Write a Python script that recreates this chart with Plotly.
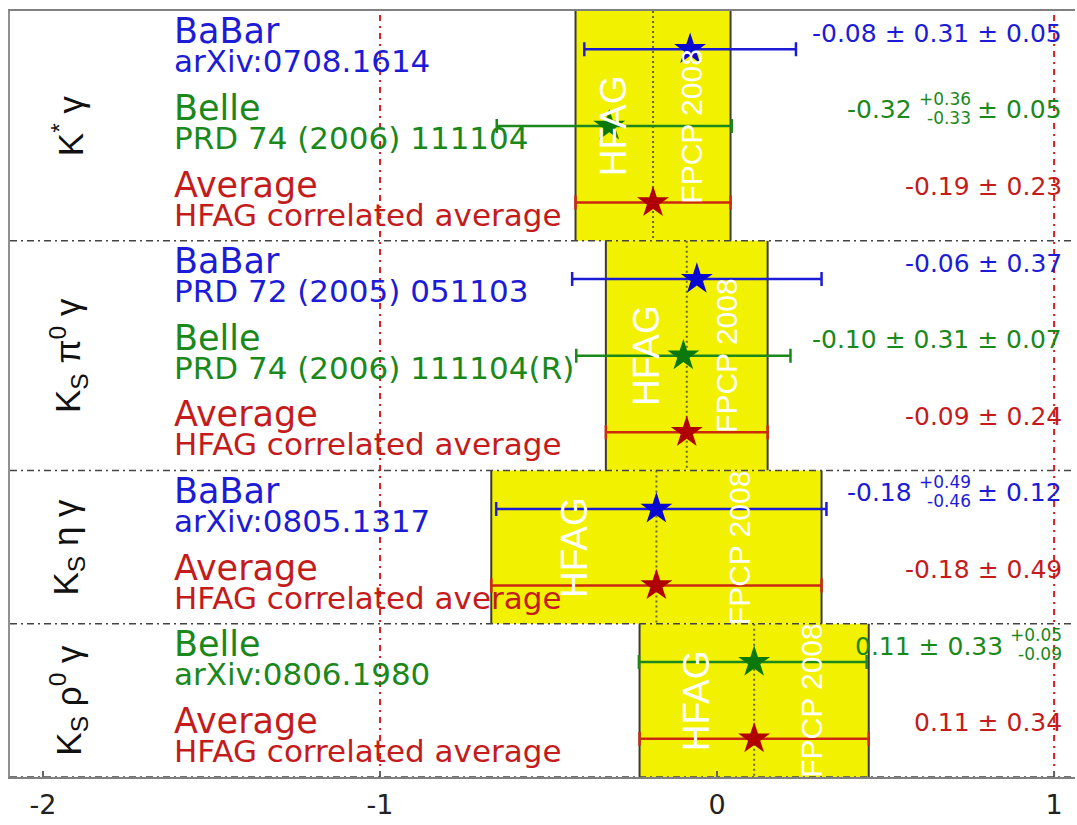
import math
import plotly.graph_objects as go

# ---- data -------------------------------------------------------------
decay_modes = [
    "K<sup>*</sup> γ",
    "K<sub>S</sub> π<sup>0</sup> γ",
    "K<sub>S</sub> η γ",
    "K<sub>S</sub> ρ<sup>0</sup> γ",
]

meas_mode = [0, 0, 1, 1, 2, 3]
meas_exp = ["BaBar", "Belle", "BaBar", "Belle", "BaBar", "Belle"]
meas_ref = [
    "arXiv:0708.1614",
    "PRD 74 (2006) 111104",
    "PRD 72 (2005) 051103",
    "PRD 74 (2006) 111104(R)",
    "arXiv:0805.1317",
    "arXiv:0806.1980",
]
meas_val = [-0.08, -0.32, -0.06, -0.10, -0.18, 0.11]
stat_hi = [0.31, 0.36, 0.37, 0.31, 0.49, 0.33]
stat_lo = [0.31, 0.33, 0.37, 0.31, 0.46, 0.33]
syst_hi = [0.05, 0.05, None, 0.07, 0.12, 0.05]
syst_lo = [0.05, 0.05, None, 0.07, 0.12, 0.09]

avg_val = [-0.19, -0.09, -0.18, 0.11]
avg_err = [0.23, 0.24, 0.49, 0.34]

x_ticks = [-2, -1, 0, 1]

# ---- style ------------------------------------------------------------
EXP_COLOR = {"BaBar": "#1c1cd6", "Belle": "#1b881b", "Average": "#c41c1c"}
STAR_COLOR = {"BaBar": "#0808d0", "Belle": "#0a780a", "Average": "#b00000"}
YELLOW = "#f2f200"
FONT = "DejaVu Sans"
X_RANGE = [-2.098, 1.062]
LABEL_X = -1.617
MODE_X = -1.925
VALUE_X = 1.03

# ---- row bookkeeping --------------------------------------------------
rows = {}
avg_row = []
sec_start, sec_end = [], []
r = 0
for m in range(len(decay_modes)):
    sec_start.append(r)
    for i, mm in enumerate(meas_mode):
        if mm == m:
            rows[i] = r
            r += 1
    avg_row.append(r)
    r += 1
    sec_end.append(r)
n_rows = r


def quad(a, b):
    return math.sqrt(a * a + (b or 0.0) ** 2)


def fmt(v):
    return f"{v:.2f}"


CHAR_W = {".": 0.318, "-": 0.361, "+": 0.838, "±": 0.838, " ": 0.318}


def text_width(s, size):
    return sum(CHAR_W.get(c, 0.636) for c in s) * size


fig = go.Figure()
shapes = []
annotations = []

# ---- average bands ----------------------------------------------------
for m in range(len(decay_modes)):
    lo = avg_val[m] - avg_err[m]
    hi = avg_val[m] + avg_err[m]
    y0, y1 = sec_start[m], sec_end[m]
    shapes.append(dict(type="rect", xref="x", yref="y", x0=lo, x1=hi, y0=y0, y1=y1,
                       fillcolor=YELLOW, line=dict(width=0), layer="below"))
    for xe in (lo, hi):
        shapes.append(dict(type="line", xref="x", yref="y", x0=xe, x1=xe, y0=y0, y1=y1,
                           line=dict(color="#3a3a3a", width=2), layer="below"))
    shapes.append(dict(type="line", xref="x", yref="y", x0=avg_val[m], x1=avg_val[m],
                       y0=y0, y1=y1, line=dict(color="#6a6a30", width=2, dash="2px,3px"),
                       layer="below"))
    yc = (y0 + y1) / 2
    annotations.append(dict(x=avg_val[m] - 0.5 * avg_err[m], y=yc, xref="x", yref="y",
                            text="HFAG", textangle=-90, showarrow=False,
                            font=dict(family="Liberation Sans", size=37, color="white"),
                            xanchor="center", yanchor="middle"))
    annotations.append(dict(x=avg_val[m] + 0.5 * avg_err[m], y=yc, xref="x", yref="y",
                            text="FPCP 2008", textangle=-90, showarrow=False,
                            font=dict(family="Liberation Sans", size=30, color="white"),
                            xanchor="center", yanchor="middle"))

# ---- reference lines ---------------------------------------------------
shapes.append(dict(type="line", xref="x", yref="paper", x0=0, x1=0, y0=0, y1=1,
                   line=dict(color="#c40000", width=3, dash="7px,5px"), layer="below"))
for xv in (-1, 1):
    shapes.append(dict(type="line", xref="x", yref="paper", x0=xv, x1=xv, y0=0, y1=1,
                       line=dict(color="#d42020", width=2, dash="6px,5px,2px,5px"),
                       layer="below"))

# section dividers (dash-dot)
for yb in sec_end:
    shapes.append(dict(type="line", xref="paper", yref="y", x0=0, x1=1, y0=yb, y1=yb,
                       line=dict(color="#444444", width=1.5, dash="7px,4px,2px,4px"),
                       layer="above"))

# ---- measurement points ----------------------------------------------
for exp in ("BaBar", "Belle"):
    idx = [i for i in range(len(meas_val)) if meas_exp[i] == exp]
    fig.add_trace(go.Scatter(
        x=[meas_val[i] for i in idx],
        y=[rows[i] + 0.5 for i in idx],
        mode="markers",
        marker=dict(symbol="star", size=24, color=STAR_COLOR[exp], line=dict(width=0)),
        error_x=dict(type="data", symmetric=False,
                     array=[quad(stat_hi[i], syst_hi[i]) for i in idx],
                     arrayminus=[quad(stat_lo[i], syst_lo[i]) for i in idx],
                     color=EXP_COLOR[exp], thickness=2.5, width=7),
        showlegend=False, hoverinfo="skip",
    ))

fig.add_trace(go.Scatter(
    x=avg_val, y=[a + 0.5 for a in avg_row], mode="markers",
    marker=dict(symbol="star", size=24, color=STAR_COLOR["Average"], line=dict(width=0)),
    error_x=dict(type="data", array=avg_err, color="#cc2a10", thickness=2.5, width=7),
    showlegend=False, hoverinfo="skip",
))

# ---- text labels -------------------------------------------------------
def left_label(row, title, sub, color):
    annotations.append(dict(x=LABEL_X, y=row + 0.5, xref="x", yref="y", text=title,
                            showarrow=False, xanchor="left", yanchor="middle", yshift=18,
                            font=dict(family=FONT, size=35, color=color)))
    annotations.append(dict(x=LABEL_X, y=row + 0.5, xref="x", yref="y", text=sub,
                            showarrow=False, xanchor="left", yanchor="middle", yshift=-12,
                            font=dict(family=FONT, size=31, color=color)))


def value_label(row, segments, color):
    # segments are laid out right to left from VALUE_X
    shift = 0.0
    for seg in reversed(segments):
        if isinstance(seg, str):
            annotations.append(dict(x=VALUE_X, y=row + 0.5, xref="x", yref="y", text=seg,
                                    showarrow=False, xanchor="right", yanchor="middle",
                                    xshift=-shift, yshift=16,
                                    font=dict(family=FONT, size=25, color=color)))
            shift += text_width(seg, 25) + 7
        else:
            up, down = seg
            for t, ys in ((up, 27), (down, 8)):
                annotations.append(dict(x=VALUE_X, y=row + 0.5, xref="x", yref="y", text=t,
                                        showarrow=False, xanchor="right", yanchor="middle",
                                        xshift=-shift, yshift=ys,
                                        font=dict(family=FONT, size=17, color=color)))
            shift += max(text_width(up, 17), text_width(down, 17)) + 7


for i in range(len(meas_val)):
    color = EXP_COLOR[meas_exp[i]]
    left_label(rows[i], meas_exp[i], meas_ref[i], color)
    segs = []
    cur = fmt(meas_val[i])
    if stat_hi[i] == stat_lo[i]:
        cur += " ± " + fmt(stat_hi[i])
    else:
        segs.append(cur)
        segs.append(("+" + fmt(stat_hi[i]), "-" + fmt(stat_lo[i])))
        cur = ""
    if syst_hi[i] is not None:
        if syst_hi[i] == syst_lo[i]:
            cur = (cur + " ± " if cur else "± ") + fmt(syst_hi[i])
        else:
            if cur:
                segs.append(cur)
            segs.append(("+" + fmt(syst_hi[i]), "-" + fmt(syst_lo[i])))
            cur = ""
    if cur:
        segs.append(cur)
    value_label(rows[i], segs, color)

for m in range(len(decay_modes)):
    left_label(avg_row[m], "Average", "HFAG correlated average", EXP_COLOR["Average"])
    value_label(avg_row[m], [fmt(avg_val[m]) + " ± " + fmt(avg_err[m])], EXP_COLOR["Average"])
    annotations.append(dict(x=MODE_X, y=(sec_start[m] + sec_end[m]) / 2, xref="x", yref="y",
                            text=decay_modes[m], textangle=-90, showarrow=False,
                            xanchor="center", yanchor="middle",
                            font=dict(family="Liberation Sans", size=35, color="#111111")))

# ---- axes & layout ------------------------------------------------------
fig.update_layout(
    width=1077, height=825,
    margin=dict(l=10, r=2, t=11, b=48),
    paper_bgcolor="white", plot_bgcolor="white",
    shapes=shapes, annotations=annotations,
    xaxis=dict(range=X_RANGE, tickvals=x_ticks, ticktext=[str(t) for t in x_ticks],
               automargin=False,
               showgrid=False, zeroline=False, showline=True, mirror=True,
               linecolor="#808080", linewidth=2, ticks="inside", ticklen=6,
               tickcolor="#666666", tickwidth=1.5, ticklabelstandoff=3,
               tickfont=dict(family=FONT, size=27, color="#222222")),
    yaxis=dict(range=[n_rows, 0], showgrid=False, zeroline=False, showticklabels=False,
               automargin=False,
               showline=True, linecolor="#909090", linewidth=2, ticks=""),
)

fig.write_html("out.html")
